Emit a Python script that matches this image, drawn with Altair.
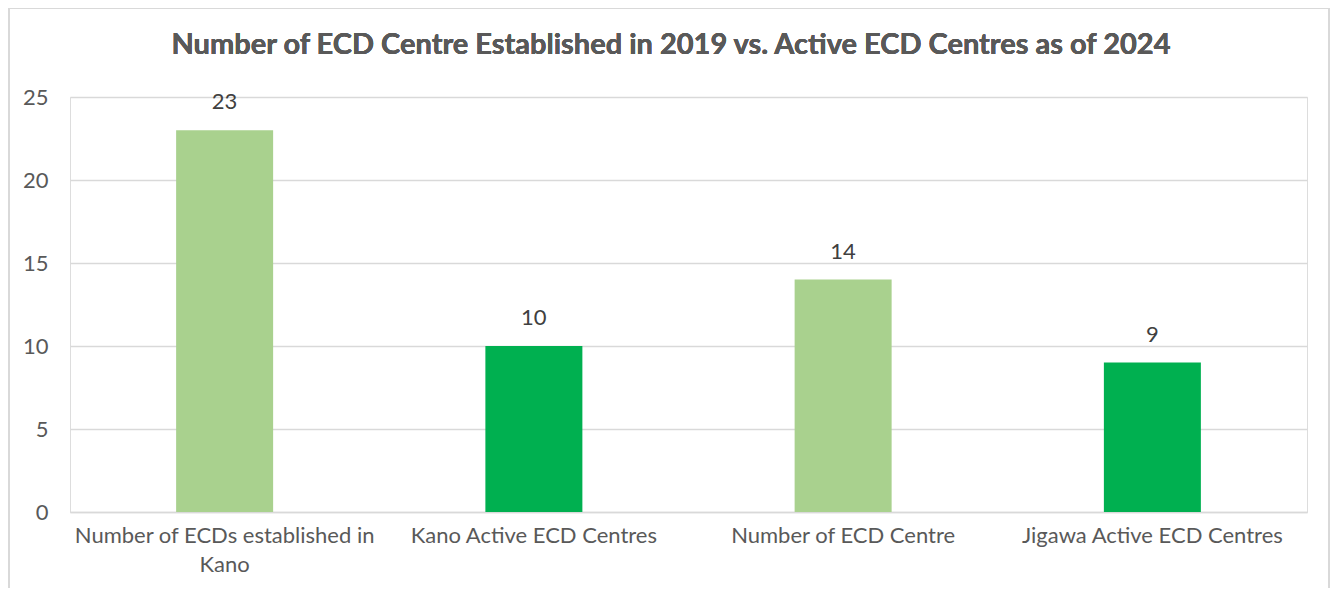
import altair as alt
import pandas as pd

categories = ["Number of ECDs established in\nKano", "Kano Active ECD Centres",
              "Number of ECD Centre", "Jigawa Active ECD Centres"]
values = [23, 10, 14, 9]
kinds = ["Established", "Active", "Established", "Active"]
title_text = "Number of ECD Centre Established in 2019 vs. Active ECD Centres as of 2024"

df = pd.DataFrame({"category": categories, "value": values, "kind": kinds})

FONT = "Lato"
GREY = "#595959"

x_enc = alt.X("category:N", sort=categories, title=None,
              scale=alt.Scale(paddingInner=0, paddingOuter=0),
              axis=alt.Axis(labelAngle=0, labelExpr="split(datum.label, '\\n')",
                            labelFont=FONT, labelFontSize=22, labelColor=GREY,
                            labelPadding=13, ticks=False, domain=True,
                            domainColor="#D9D9D9", domainWidth=1.5, labelLimit=400,
                            labelLineHeight=29))
y_enc = alt.Y("value:Q", title=None,
              scale=alt.Scale(domain=[0, 25], nice=False),
              axis=alt.Axis(values=[0, 5, 10, 15, 20, 25], labelFont=FONT, labelFontSize=22,
                            labelColor=GREY, labelPadding=22, ticks=False, domain=False,
                            grid=True, gridColor="#D9D9D9", gridWidth=1.5))

bars = alt.Chart(df).mark_bar(size=97).encode(
    x=x_enc, y=y_enc,
    color=alt.Color("kind:N", scale=alt.Scale(domain=["Established", "Active"],
                                              range=["#A9D18E", "#00B050"]), legend=None),
)
labels = alt.Chart(df).mark_text(baseline="bottom", dy=-16, font=FONT, fontSize=22,
                                 color="#404040").encode(
    x=alt.X("category:N", sort=categories), y="value:Q", text="value:Q")

border = alt.Chart(df).mark_rect(fill=None, stroke="#D9D9D9", strokeWidth=2, clip=False).encode(
    x=alt.value(-61), x2=alt.value(1259), y=alt.value(-89), y2=alt.value(560))

title_mark = alt.Chart(df).mark_text(font=FONT, fontSize=29, fontWeight="bold", color=GREY,
                                     baseline="middle", align="center").encode(
    x=alt.value(601), y=alt.value(-52), text=alt.value(title_text))

chart = alt.layer(border, bars, labels, title_mark).properties(
    width=1237, height=415,
    autosize=alt.AutoSizeParams(type="none"),
    padding={"left": 62, "top": 89, "right": 23, "bottom": 76},
).configure_view(stroke=None).configure(background="white")

chart.save("out.html", embed_options={"renderer": "svg", "actions": False})
